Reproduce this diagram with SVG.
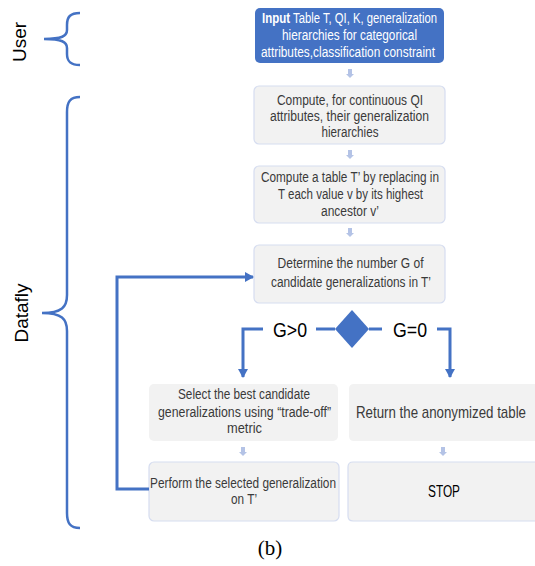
<svg xmlns="http://www.w3.org/2000/svg" width="535" height="566" viewBox="0 0 535 566">
<style>
.box{fill:#F2F2F2;stroke:#D6DDF0;stroke-width:1.2}
.nb{fill:#F2F2F2;stroke:none}
.t{font-family:"Liberation Sans",Arial,sans-serif;font-size:14px;fill:#3A3A3A;text-anchor:middle}
.w{fill:#FFFFFF}
.lbl{font-family:"Liberation Sans",Arial,sans-serif;font-size:20px;fill:#000;text-anchor:middle}
.side{font-family:"Liberation Sans",Arial,sans-serif;font-size:19px;fill:#000;text-anchor:middle}
.brace{fill:none;stroke:#4472C4;stroke-width:2.5}
.conn{fill:none;stroke:#4472C4;stroke-width:3}
.sa{fill:#B4C3E6}
</style>
<defs>
<marker id="ah" markerWidth="10" markerHeight="10" refX="8" refY="5" orient="auto" markerUnits="userSpaceOnUse">
<path d="M0,0 L9,5 L0,10 Z" fill="#4472C4"/>
</marker>
<path id="small" d="M-2,0 H2 V5 H4 L0,9 L-4,5 H-2 Z"/>
</defs>

<g id="side-labels">
<text class="side" transform="translate(26,42) rotate(-90)">User</text>
<text class="side" transform="translate(28,313) rotate(-90)">Datafly</text>
<path class="brace" d="M80,13 C70,13 67,17 67,25 L67,30 C67,36 62,39 44,39 C62,39 67,42 67,48 L67,54 C67,61 70,65 80,65"/>
<path class="brace" d="M80,97 C70,97 67,102 67,112 L67,295 C67,307 62,313 42,313 C62,313 67,319 67,331 L67,513 C67,523 70,528 80,528"/>
</g>

<g id="n1">
<rect x="255" y="8" width="189" height="55" rx="5" fill="#4472C4"/>
<text class="t w" x="276" y="23" font-weight="bold" textLength="28" lengthAdjust="spacingAndGlyphs">Input</text>
<text class="t w" x="365" y="23" textLength="144" lengthAdjust="spacingAndGlyphs">Table T, QI, K, generalization</text>
<text class="t w" x="349.5" y="40" textLength="135" lengthAdjust="spacingAndGlyphs">hierarchies for categorical</text>
<text class="t w" x="348" y="57" textLength="174" lengthAdjust="spacingAndGlyphs">attributes,classification constraint</text>
</g>

<g id="n2">
<rect class="box" x="254" y="86" width="191" height="58" rx="5"/>
<text class="t" x="350" y="105" textLength="146" lengthAdjust="spacingAndGlyphs">Compute, for continuous QI</text>
<text class="t" x="349.5" y="121" textLength="159" lengthAdjust="spacingAndGlyphs">attributes, their generalization</text>
<text class="t" x="350" y="137" textLength="57" lengthAdjust="spacingAndGlyphs">hierarchies</text>
</g>

<g id="n3">
<rect class="box" x="254" y="166" width="191" height="57" rx="5"/>
<text class="t" x="350" y="182" textLength="178" lengthAdjust="spacingAndGlyphs">Compute a table T’ by replacing in</text>
<text class="t" x="350.5" y="199" textLength="145" lengthAdjust="spacingAndGlyphs">T each value v by its highest</text>
<text class="t" x="350" y="216" textLength="58" lengthAdjust="spacingAndGlyphs">ancestor v’</text>
</g>

<g id="n4">
<rect class="box" x="254" y="245" width="191" height="58" rx="5"/>
<text class="t" x="350.5" y="268" textLength="146" lengthAdjust="spacingAndGlyphs">Determine the number G of</text>
<text class="t" x="351" y="287" textLength="160" lengthAdjust="spacingAndGlyphs">candidate generalizations in T’</text>
</g>

<g id="decision">
<path d="M352,310 L369,329 L352,348 L335,329 Z" fill="#4472C4"/>
<text class="lbl" x="290" y="337" textLength="34" lengthAdjust="spacingAndGlyphs">G&gt;0</text>
<text class="lbl" x="410" y="337" textLength="34" lengthAdjust="spacingAndGlyphs">G=0</text>
</g>

<g id="n5">
<rect class="nb" x="149" y="384" width="189" height="57" rx="5"/>
<text class="t" x="244" y="399" textLength="132" lengthAdjust="spacingAndGlyphs">Select the best candidate</text>
<text class="t" x="244.5" y="417" textLength="173" lengthAdjust="spacingAndGlyphs">generalizations using “trade-off”</text>
<text class="t" x="244.5" y="433" textLength="35" lengthAdjust="spacingAndGlyphs">metric</text>
</g>

<g id="n6">
<path class="nb" d="M354,384 H535 V441 H354 Q349,441 349,436 V389 Q349,384 354,384 Z"/>
<text class="t" x="441" y="418" style="font-size:17px" textLength="170" lengthAdjust="spacingAndGlyphs">Return the anonymized table</text>
</g>

<g id="n8">
<path class="box" d="M536,462 H353 Q348,462 348,467 V516 Q348,521 353,521 H536"/>
<text class="t" x="444" y="497" style="fill:#000;font-size:16px" textLength="32" lengthAdjust="spacingAndGlyphs">STOP</text>
</g>

<g id="n7">
<rect class="box" x="149" y="462" width="190" height="59" rx="5"/>
<text class="t" x="243" y="488" textLength="186" lengthAdjust="spacingAndGlyphs">Perform the selected generalization</text>
<text class="t" x="244" y="504" textLength="26" lengthAdjust="spacingAndGlyphs">on T’</text>
</g>

<g id="connectors">
<use href="#small" class="sa" x="350" y="69"/>
<use href="#small" class="sa" x="350" y="150"/>
<use href="#small" class="sa" x="350" y="228"/>
<use href="#small" class="sa" x="243" y="447"/>
<use href="#small" class="sa" x="443" y="447"/>
<path class="conn" d="M316,329 H335"/>
<path class="conn" d="M369,329 H382"/>
<path class="conn" d="M263,329 H243 V377" marker-end="url(#ah)"/>
<path class="conn" d="M437,329 H450 V377" marker-end="url(#ah)"/>
<path class="conn" d="M149,489 H117 V277 H253" marker-end="url(#ah)"/>
</g>

<text x="270" y="555" font-family="Liberation Serif,Times New Roman,serif" font-size="21" text-anchor="middle" fill="#000">(b)</text>
</svg>
